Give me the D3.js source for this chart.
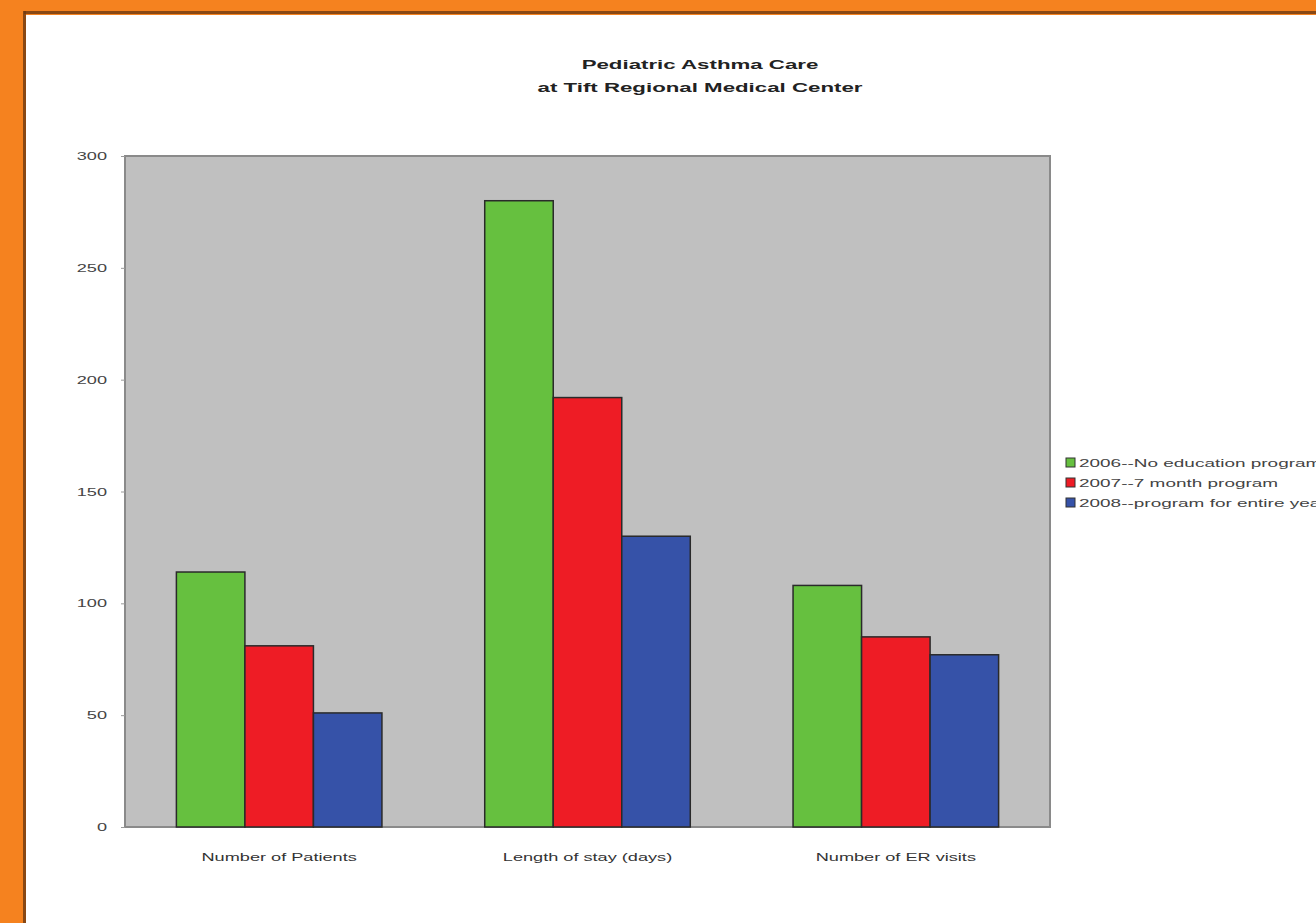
<!DOCTYPE html>
<html>
<head>
<meta charset="utf-8">
<script src="https://cdn.jsdelivr.net/npm/d3@7"></script>
<style>
html,body{margin:0;padding:0;background:#fff;overflow:hidden;}
svg{display:block;}
text{font-family:"Liberation Sans",Arial,sans-serif;}
</style>
</head>
<body>
<svg id="chart" width="1316" height="923"></svg>
<script>
const categories = ["Number of Patients", "Length of stay (days)", "Number of ER visits"];
const seriesNames = ["2006--No education program", "2007--7 month program", "2008--program for entire year"];
const series2006 = [114, 280, 108];
const series2007 = [81, 192, 85];
const series2008 = [51, 130, 77];
const yTicks = [0, 50, 100, 150, 200, 250, 300];
const titleLines = ["Pediatric Asthma Care", "at Tift Regional Medical Center"];
const colors = ["#66c03f", "#ee1c25", "#3652a8"];

const svg = d3.select("#chart");
const W = 1316, H = 923;
const SX = 1.65; // horizontal stretch of all text in the reference

function stretch(sel){
  sel.each(function(){
    const t = d3.select(this);
    const x = +t.attr("x") || 0, y = +t.attr("y") || 0;
    t.attr("transform", `translate(${x},${y}) scale(${SX},1) translate(${-x},${-y})`);
  });
}

// frame
svg.append("rect").attr("x",0).attr("y",0).attr("width",W).attr("height",H).attr("fill","#fff");
svg.append("rect").attr("x",0).attr("y",0).attr("width",W).attr("height",15).attr("fill","#f5821f");
svg.append("rect").attr("x",0).attr("y",0).attr("width",26).attr("height",H).attr("fill","#f5821f");
svg.append("rect").attr("x",24).attr("y",11).attr("width",W-24).attr("height",3).attr("fill","#6e3a12").attr("opacity",0.8);
svg.append("rect").attr("x",23).attr("y",11).attr("width",3).attr("height",H-11).attr("fill","#6e3a12").attr("opacity",0.8);

const plot = {left:125, right:1050, top:156, bottom:827};

const x0 = d3.scaleBand().domain(categories).range([plot.left, plot.right]).paddingInner(0).paddingOuter(0);
const barW = x0.bandwidth()/4.5;
const x1 = d3.scaleBand().domain(seriesNames).range([0, barW*3]);
const y = d3.scaleLinear().domain([0,300]).range([plot.bottom, plot.top]);

// plot background
svg.append("rect").attr("x",plot.left).attr("y",plot.top)
  .attr("width",plot.right-plot.left).attr("height",plot.bottom-plot.top)
  .attr("fill","#c0c0c0").attr("stroke","#8a8a8a").attr("stroke-width",2);

// title
svg.append("g").selectAll("text").data(titleLines).join("text")
  .attr("x",700).attr("y",(d,i)=>69+i*23).attr("text-anchor","middle")
  .attr("font-size",13.5).attr("font-weight","bold").attr("fill","#222").text(d=>d)
  .call(stretch);

// y axis
const yAxis = d3.axisLeft(y).tickValues(yTicks).tickSize(4).tickPadding(14).tickFormat(d3.format("d"));
const yg = svg.append("g").attr("transform",`translate(${plot.left},0)`).call(yAxis);
yg.select(".domain").remove();
yg.selectAll("line").attr("stroke","#999");
yg.selectAll("text").attr("font-size",11).attr("fill","#444").attr("font-family","Liberation Sans, Arial, sans-serif").call(stretch);

// x axis labels
const xAxis = d3.axisBottom(x0).tickSize(0).tickPadding(26);
const xg = svg.append("g").attr("transform",`translate(0,${plot.bottom})`).call(xAxis);
xg.select(".domain").remove();
xg.selectAll("text").attr("font-size",11).attr("fill","#333").attr("font-family","Liberation Sans, Arial, sans-serif").call(stretch);

// bars
const data = categories.map((c,i)=>({cat:c, vals:[series2006[i], series2007[i], series2008[i]]}));
const groups = svg.append("g").selectAll("g").data(data).join("g")
  .attr("transform",d=>`translate(${x0(d.cat) + (x0.bandwidth()-barW*3)/2},0)`);
groups.selectAll("rect").data(d=>d.vals.map((v,i)=>({name:seriesNames[i], v, i}))).join("rect")
  .attr("x",d=>x1(d.name)).attr("width",x1.bandwidth())
  .attr("y",d=>y(d.v)).attr("height",d=>y(0)-y(d.v))
  .attr("fill",d=>colors[d.i]).attr("stroke","#2a2a2a").attr("stroke-width",1.5);

// legend
const lg = svg.append("g").attr("transform","translate(1066,463)");
const items = lg.selectAll("g").data(seriesNames).join("g").attr("transform",(d,i)=>`translate(0,${i*20})`);
items.append("rect").attr("x",0).attr("y",-5).attr("width",9).attr("height",9)
  .attr("fill",(d,i)=>colors[i]).attr("stroke","#333").attr("stroke-width",1);
items.append("text").attr("x",13).attr("y",4).attr("font-size",11.5).attr("fill","#444").text(d=>d).call(stretch);
</script>
</body>
</html>
